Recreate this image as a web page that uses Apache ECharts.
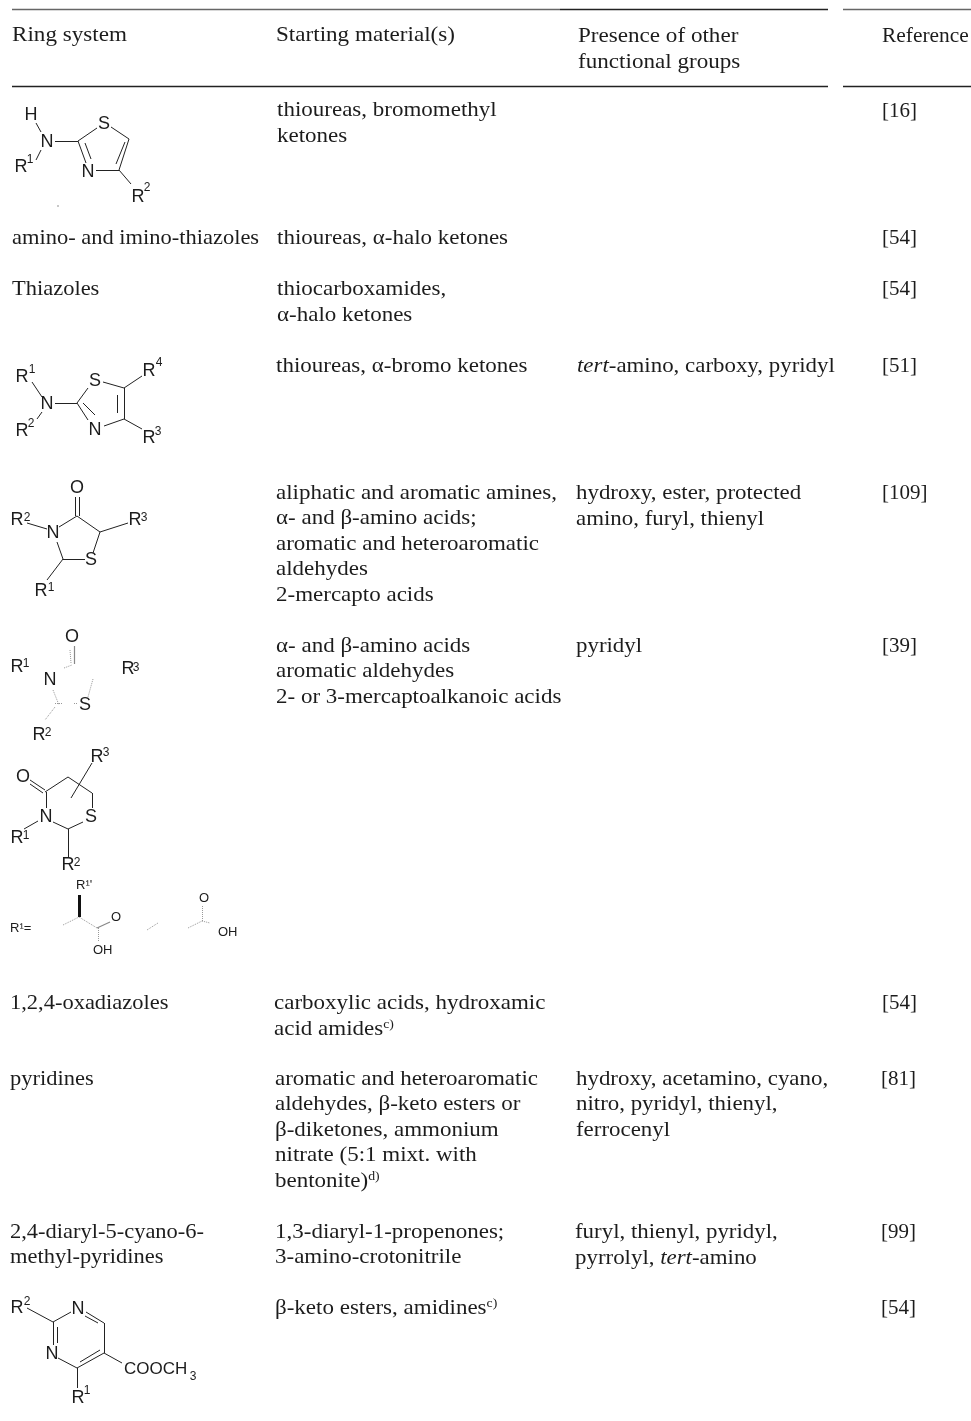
<!DOCTYPE html>
<html>
<head>
<meta charset="utf-8">
<style>html,body{margin:0;padding:0;background:#fff}#chart{width:971px;height:1421px}</style>
<script src="https://cdn.jsdelivr.net/npm/echarts@6/dist/echarts.min.js"></script>
</head>
<body>
<div id="chart"></div>
<script>
// every table line: [x, y, text]
var headerLines = [
	[12, 34, "Ring system"],
	[276, 34, "Starting material(s)"],
	[578, 35, "Presence of other"],
	[578, 61, "functional groups"]
];
var referenceHeader = [
	[882, 35, "Reference"]
];
var ringSystemLines = [
	[12, 237, "amino- and imino-thiazoles"],
	[12, 288, "Thiazoles"],
	[10, 1002, "1,2,4-oxadiazoles"],
	[10, 1078, "pyridines"],
	[10, 1231, "2,4-diaryl-5-cyano-6-"],
	[10, 1256, "methyl-pyridines"]
];
var startingMaterialLines = [
	[277, 109, "thioureas, bromomethyl"],
	[277, 135, "ketones"],
	[277, 237, "thioureas, α-halo ketones"],
	[277, 288, "thiocarboxamides,"],
	[277, 314, "α-halo ketones"],
	[276, 365, "thioureas, α-bromo ketones"],
	[276, 492, "aliphatic and aromatic amines,"],
	[276, 517, "α- and β-amino acids;"],
	[276, 543, "aromatic and heteroaromatic"],
	[276, 568, "aldehydes"],
	[276, 594, "2-mercapto acids"],
	[276, 645, "α- and β-amino acids"],
	[276, 670, "aromatic aldehydes"],
	[276, 696, "2- or 3-mercaptoalkanoic acids"],
	[274, 1002, "carboxylic acids, hydroxamic"],
	[274, 1028, "acid amides{s|c)}"],
	[275, 1078, "aromatic and heteroaromatic"],
	[275, 1103, "aldehydes, β-keto esters or"],
	[275, 1129, "β-diketones, ammonium"],
	[275, 1154, "nitrate (5:1 mixt. with"],
	[275, 1180, "bentonite){s|d)}"],
	[275, 1231, "1,3-diaryl-1-propenones;"],
	[275, 1256, "3-amino-crotonitrile"],
	[275, 1307, "β-keto esters, amidines{s|c)}"]
];
var otherGroupLines = [
	[577, 365, "{i|tert}-amino, carboxy, pyridyl"],
	[576, 492, "hydroxy, ester, protected"],
	[576, 518, "amino, furyl, thienyl"],
	[576, 645, "pyridyl"],
	[576, 1078, "hydroxy, acetamino, cyano,"],
	[576, 1103, "nitro, pyridyl, thienyl,"],
	[576, 1129, "ferrocenyl"],
	[575, 1231, "furyl, thienyl, pyridyl,"],
	[575, 1257, "pyrrolyl, {i|tert}-amino"]
];
var referenceLines = [
	[882, 110, "[16]"],
	[882, 237, "[54]"],
	[882, 288, "[54]"],
	[882, 365, "[51]"],
	[882, 492, "[109]"],
	[882, 645, "[39]"],
	[882, 1002, "[54]"],
	[881, 1078, "[81]"],
	[881, 1231, "[99]"],
	[881, 1307, "[54]"]
];
// table rules
var darkRules = [
	[560, 9, 828, 9],
	[12, 86, 828, 86], [843, 86, 971, 86]
];
var paleRules = [
	[12, 9, 560, 9], [843, 9, 971, 9]
];
// atom labels of the drawn rings: [x, y, text] (x,y = centre)
var atomLabels = [
	[31, 115, "H"], [47, 142, "N"], [21, 167, "R"], [104, 124, "S"], [88, 172, "N"], [138, 197, "R"],
	[22, 377, "R"], [47, 404, "N"], [22, 431, "R"], [95, 381, "S"], [95, 430, "N"], [149, 371, "R"], [149, 438, "R"],
	[77, 488, "O"], [17, 520, "R"], [53, 533, "N"], [135, 520, "R"], [91, 560, "S"], [41, 591, "R"],
	[72, 637, "O"], [17, 667, "R"], [50, 680, "N"], [128, 669, "R"], [85, 705, "S"], [39, 735, "R"],
	[23, 777, "O"], [46, 817, "N"], [91, 817, "S"], [97, 757, "R"], [17, 838, "R"], [68, 865, "R"],
	[17, 1308, "R"], [78, 1309, "N"], [52, 1354, "N"], [78, 1398, "R"]
];
var atomIndexes = [
	[30, 160, "1"], [147, 188, "2"],
	[32, 370, "1"], [31, 424, "2"], [159, 363, "4"], [158, 432, "3"],
	[27, 518, "2"], [144, 518, "3"], [51, 588, "1"],
	[26, 664, "1"], [136, 668, "3"], [48, 733, "2"],
	[106, 753, "3"], [26, 836, "1"], [77, 863, "2"],
	[27, 1302, "2"], [87, 1391, "1"], [193, 1377, "3"]
];
var groupLabels = [
	[124, 1369, "COOCH"]
];
var substituentLabels = [
	[10, 928, "R¹="], [76, 885, "R¹'"],
	[111, 917, "O"], [93, 950, "OH"], [199, 898, "O"], [218, 932, "OH"]
];
// bonds: [x1, y1, x2, y2]
var bonds = [
	[36,123,41,132],[41,150,36,160],[55,141,78,141],[78,141,97,128],[111,127,129,139],[129,139,119,170],[125,142,116,164],
	[119,170,96,170],[78,141,86,163],[85,143,91,159],[119,170,131,184],
	[32,382,42,397],[37,419,42,412],[55,403,77,403],[77,403,88,388],[103,382,124,388],[124,388,124,419],[117,395,117,413],
	[124,419,104,426],[77,403,88,420],[83,403,95,415],[124,388,142,376],[124,419,142,429],
	[75,497,75,516],[79,497,79,516],[77,516,59,527],[27,523,47,529],[57,542,63,559],[63,559,85,559],[93,553,100,532],
	[100,532,77,516],[100,532,128,523],[63,559,47,580],
	[30,780,45,790],[30,784,43,793],[45,792,68,777],[68,777,92,793],[92,793,92,808],[83,822,68,829],[68,829,53,822],
	[46,808,46,792],[38,821,24,829],[68,829,68,857],[92,763,71,798],
	[27,1308,53,1322],[53,1322,71,1312],[53,1322,53,1345],[57,1327,57,1343],[58,1358,77,1368],[77,1368,104,1353],
	[80,1362,100,1350],[104,1353,104,1323],[104,1323,86,1312],[98,1323,85,1316],[104,1353,122,1363],[77,1368,77,1388]
];
// bonds that nearly vanished in the scan
var faintBonds = [
	[70,650,71,663],[64,668,72,665],[53,690,59,705],[55,703,63,703],[74,703,78,703],[93,679,88,697],[55,707,45,720],
	[63,925,79,917],[79,917,97,928],[98,928,98,942],[147,930,158,923],[188,928,202,921],[202,921,202,905],[202,921,210,923]
];
var greyBonds = [[74,646,74,664],[97,928,110,922]];
var wedgeBonds = [[79,895,79,917]];
var specks = [[58,206]];

var serif = "'Liberation Serif', serif";
var sans = "'Liberation Sans', Arial, sans-serif";
var ink = "#1c1c1c";

function textSeries(name, rows, family, size, align, stretch, shift) {
	return {
		name: name,
		type: "custom",
		coordinateSystem: "cartesian2d",
		silent: true,
		clip: false,
		data: rows,
		encode: {x: 0, y: 1},
		renderItem: function (params, api) {
			var p = api.coord([api.value(0), api.value(1)]);
			return {
				type: "text",
				x: p[0],
				y: p[1] + (shift || 0),
				scaleX: stretch || 1,
				style: {
					text: rows[params.dataIndex][2],
					fill: ink,
					fontFamily: family,
					fontSize: size,
					align: align,
					verticalAlign: "middle",
					rich: {
						i: {fontFamily: family, fontSize: size, fontStyle: "italic", fill: ink},
						s: {fontFamily: family, fontSize: size * 0.6, fill: ink, verticalAlign: "top"}
					}
				}
			};
		}
	};
}

function bondSeries(name, rows, color, width, type) {
	return {
		name: name,
		type: "lines",
		coordinateSystem: "cartesian2d",
		silent: true,
		lineStyle: {color: color, width: width, type: type || "solid", opacity: 1},
		data: rows.map(function (b) {
			return {coords: [[b[0], b[1]], [b[2], b[3]]]};
		})
	};
}

var BODY = 21;
var chart = echarts.init(document.getElementById("chart"), null, {renderer: "canvas"});
chart.setOption({
	animation: false,
	backgroundColor: "#fff",
	grid: {left: 0, right: 0, top: 0, bottom: 0},
	xAxis: {type: "value", min: 0, max: 971, show: false},
	yAxis: {type: "value", min: 0, max: 1421, inverse: true, show: false},
	series: [
		bondSeries("dark rules", darkRules, "#222", 1.3),
		bondSeries("pale rules", paleRules, "#666", 1.3),
		bondSeries("bonds", bonds, "#222", 1),
		bondSeries("faint", faintBonds, "#999", 1, "dotted"),
		bondSeries("grey", greyBonds, "#888", 1.2),
		bondSeries("wedge", wedgeBonds, "#111", 3),
		{type: "scatter", name: "specks", silent: true, symbolSize: 1.5, itemStyle: {color: "#555"}, data: specks},
		textSeries("header", headerLines, serif, BODY, "left", 1.1, 1),
		textSeries("refhead", referenceHeader, serif, BODY, "left", 1.02, 1),
		textSeries("ring", ringSystemLines, serif, BODY, "left", 1.07, 1),
		textSeries("start", startingMaterialLines, serif, BODY, "left", 1.095, 1),
		textSeries("other", otherGroupLines, serif, BODY, "left", 1.09, 1),
		textSeries("refs", referenceLines, serif, BODY, "left", 1, 1),
		textSeries("atoms", atomLabels, sans, 18, "center"),
		textSeries("index", atomIndexes, sans, 12, "center"),
		textSeries("group", groupLabels, sans, 17, "left"),
		textSeries("subst", substituentLabels, sans, 13, "left")
	]
});
</script>
</body>
</html>
